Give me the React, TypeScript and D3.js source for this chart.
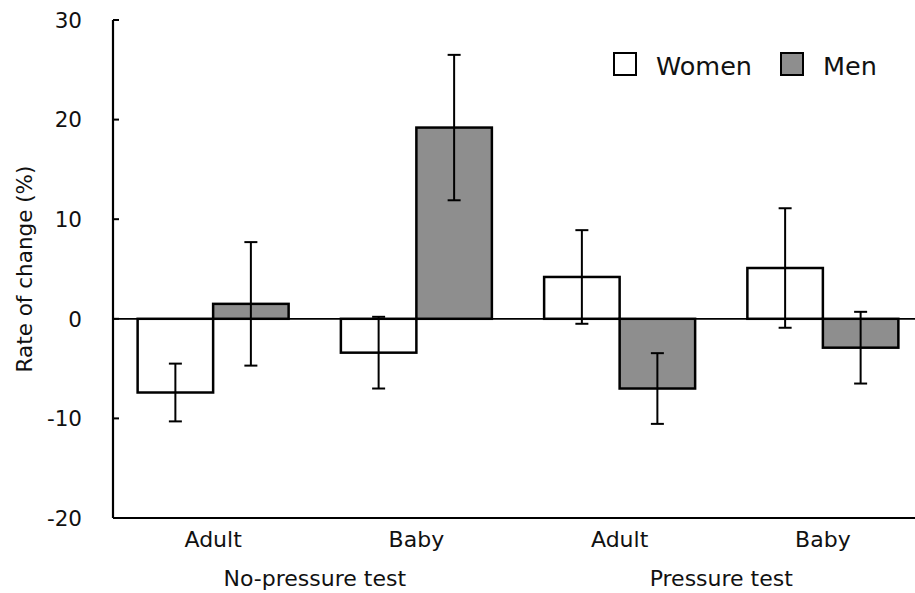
import React, { useEffect, useRef } from 'react';
import * as d3 from 'd3';

const groups = ['NP-Adult', 'NP-Baby', 'P-Adult', 'P-Baby'];
const groupLabels = ['Adult', 'Baby', 'Adult', 'Baby'];
const tests = ['No-pressure test', 'Pressure test'];
const series = ['Women', 'Men'];
const womenMean = [-7.4, -3.4, 4.2, 5.1];
const womenErr = [2.9, 3.6, 4.7, 6.0];
const menMean = [1.5, 19.2, -7.0, -2.9];
const menErr = [6.2, 7.3, 3.55, 3.6];
const yTicks = [-20, -10, 0, 10, 20, 30];

const W = 915;
const H = 593;
const FONT = '"DejaVu Sans", sans-serif';

const App = () => {
  const svgRef = useRef<SVGSVGElement>(null);

  useEffect(() => {
    const svg = d3.select(svgRef.current);
    svg.selectAll('*').remove();

    const left = 113;
    const y = d3.scaleLinear().domain([-20, 30]).range([518, 20]);
    // group bands, a little wider than the plot so the last one runs off the edge
    const x = d3.scaleBand().domain(groups).range([111.5, 111.5 + 813]).padding(0);
    const xs = d3.scaleBand().domain(series).range([0, x.bandwidth()])
      .paddingInner(0).paddingOuter(0.346);

    const fills = { Women: '#ffffff', Men: '#8e8e8e' };
    const rows = groups.flatMap((g, i) => [
      { g, s: 'Women', v: womenMean[i], e: womenErr[i] },
      { g, s: 'Men', v: menMean[i], e: menErr[i] },
    ]);

    // bars
    svg.selectAll('.bar')
      .data(rows)
      .enter()
      .append('rect')
      .attr('x', d => x(d.g)! + xs(d.s)!)
      .attr('width', xs.bandwidth())
      .attr('y', d => y(Math.max(0, d.v)))
      .attr('height', d => Math.abs(y(d.v) - y(0)))
      .style('fill', d => fills[d.s])
      .style('stroke', '#000')
      .style('stroke-width', 2.5);

    // zero line
    svg.append('line')
      .attr('x1', left).attr('x2', W)
      .attr('y1', y(0)).attr('y2', y(0))
      .style('stroke', '#000').style('stroke-width', 1.8);

    // error bars
    const eb = svg.selectAll('.err').data(rows).enter().append('g');
    const cx = d => x(d.g)! + xs(d.s)! + xs.bandwidth() / 2;
    eb.append('line')
      .attr('x1', cx).attr('x2', cx)
      .attr('y1', d => y(d.v - d.e)).attr('y2', d => y(d.v + d.e))
      .style('stroke', '#000').style('stroke-width', 2);
    [-1, 1].forEach(sgn => {
      eb.append('line')
        .attr('x1', d => cx(d) - 6.5).attr('x2', d => cx(d) + 6.5)
        .attr('y1', d => y(d.v + sgn * d.e)).attr('y2', d => y(d.v + sgn * d.e))
        .style('stroke', '#000').style('stroke-width', 2);
    });

    // axes
    svg.append('line')
      .attr('x1', left).attr('x2', left).attr('y1', y(30)).attr('y2', y(-20))
      .style('stroke', '#000').style('stroke-width', 2.2);
    svg.append('line')
      .attr('x1', left).attr('x2', W).attr('y1', y(-20)).attr('y2', y(-20))
      .style('stroke', '#000').style('stroke-width', 2.2);

    svg.selectAll('.ytick').data(yTicks).enter().append('line')
      .attr('x1', left).attr('x2', left + 6)
      .attr('y1', d => y(d)).attr('y2', d => y(d))
      .style('stroke', '#000').style('stroke-width', 2);
    svg.selectAll('.ylab').data(yTicks).enter().append('text')
      .attr('x', 82).attr('y', d => y(d)).attr('dy', '0.36em')
      .attr('text-anchor', 'end')
      .style('font-family', FONT).style('font-size', '21.5px').style('fill', '#111')
      .text(d => d);

    svg.append('text')
      .attr('transform', `translate(32,${269}) rotate(-90)`)
      .attr('text-anchor', 'middle')
      .style('font-family', FONT).style('font-size', '21.5px').style('fill', '#111')
      .text('Rate of change (%)');

    svg.selectAll('.xlab').data(groups).enter().append('text')
      .attr('x', d => x(d)! + x.bandwidth() / 2)
      .attr('y', 547)
      .attr('text-anchor', 'middle')
      .style('font-family', FONT).style('font-size', '22px').style('fill', '#111')
      .text((d, i) => groupLabels[i]);

    svg.selectAll('.tlab').data(tests).enter().append('text')
      .attr('x', (d, i) => x(groups[i * 2 + 1])!)
      .attr('y', 586)
      .attr('text-anchor', 'middle')
      .style('font-family', FONT).style('font-size', '22px').style('fill', '#111')
      .text(d => d);

    // legend
    const leg = svg.selectAll('.leg').data(series).enter().append('g')
      .attr('transform', (d, i) => `translate(${[614, 781][i]},53)`);
    leg.append('rect')
      .attr('width', 22).attr('height', 22)
      .style('fill', d => fills[d]).style('stroke', '#000').style('stroke-width', 2);
    leg.append('text')
      .attr('x', 42).attr('y', 21.5)
      .style('font-family', FONT).style('font-size', '25.5px').style('fill', '#111')
      .text(d => d);
  }, []);

  return (
    <svg ref={svgRef} width={W} height={H}
      style={{ position: 'absolute', left: 0, top: 0, background: '#fff' }} />
  );
};

export default App;
